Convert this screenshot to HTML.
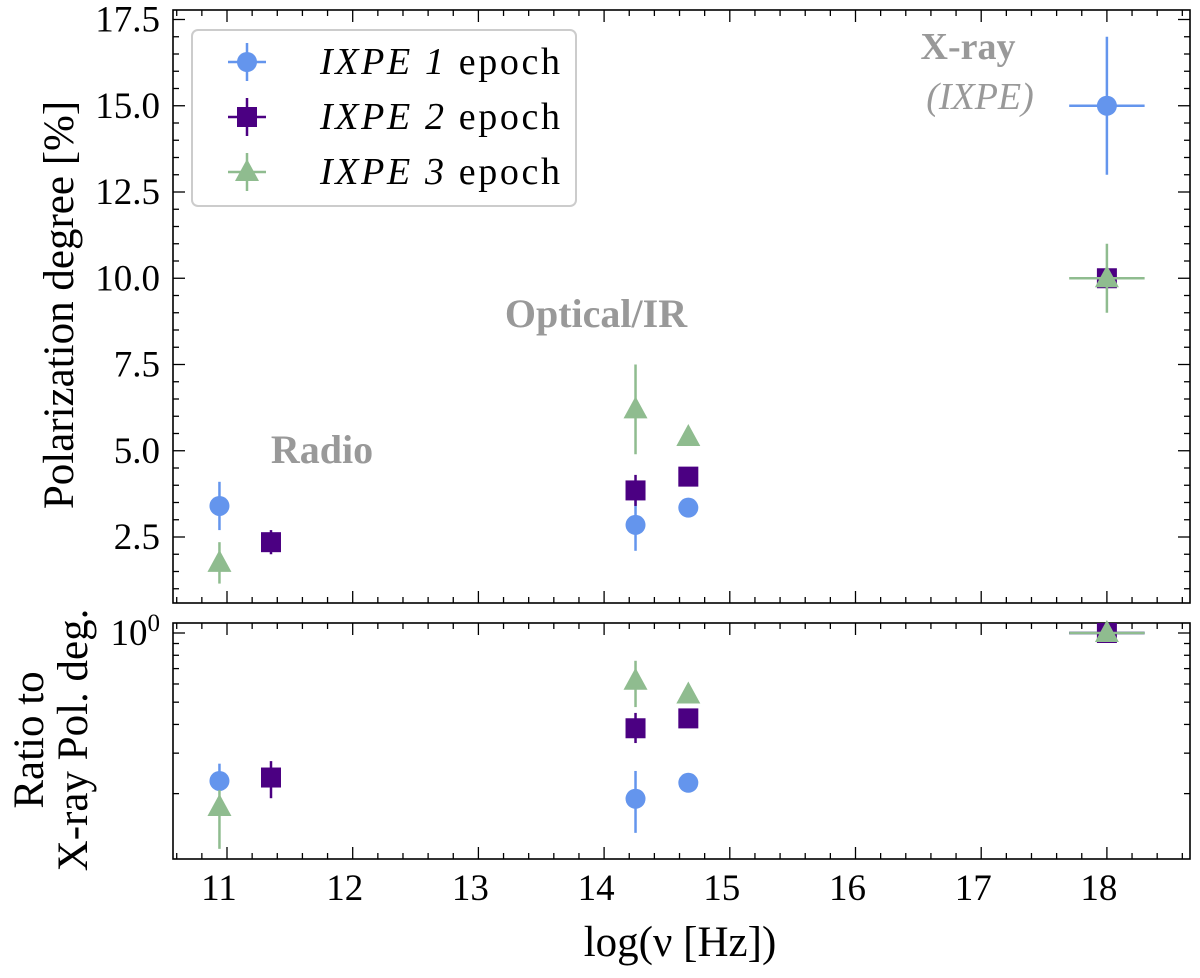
<!DOCTYPE html>
<html><head><meta charset="utf-8"><style>
body{margin:0;background:#fff}
svg text{font-family:"Liberation Serif",serif;fill:#000}
</style></head><body>
<svg id="chart" width="1200" height="973" viewBox="0 0 1200 973" xmlns="http://www.w3.org/2000/svg">
<g id="g"></g>
</svg>
<script>
// data
const ep1X = [10.94, 14.25, 14.67, 18.0];
const ep1Y = [3.4, 2.85, 3.35, 15.0];
const ep1Err = [0.7, 0.75, 0.15, 2.0];
const ep1XErr = [0, 0, 0, 0.3];
const ep2X = [11.35, 14.25, 14.67, 18.0];
const ep2Y = [2.35, 3.85, 4.25, 10.0];
const ep2Err = [0.35, 0.45, 0.1, 0.3];
const ep2XErr = [0, 0, 0, 0.05];
const ep3X = [10.94, 14.25, 14.67, 18.0];
const ep3Y = [1.75, 6.2, 5.4, 10.0];
const ep3Err = [0.6, 1.3, 0.1, 1.0];
const ep3XErr = [0, 0, 0, 0.3];
// ratio panel
const r1Y = [0.227, 0.19, 0.223, 1.0];
const r1Lo = [0.205, 0.135, 0.205, 1.0];
const r1Hi = [0.27, 0.251, 0.245, 1.0];
const r2Y = [0.235, 0.385, 0.425, 1.0];
const r2Lo = [0.191, 0.332, 0.405, 1.0];
const r2Hi = [0.277, 0.449, 0.445, 1.0];
const r3Y = [0.175, 0.62, 0.54, 1.0];
const r3Lo = [0.115, 0.476, 0.52, 1.0];
const r3Hi = [0.207, 0.757, 0.56, 1.0];
const xTicks = [11, 12, 13, 14, 15, 16, 17, 18];
const yTicks = [2.5, 5.0, 7.5, 10.0, 12.5, 15.0, 17.5];

const NS = "http://www.w3.org/2000/svg";
const g = document.getElementById('g');
function el(tag, attrs, parent) {
  const e = document.createElementNS(NS, tag);
  for (const k in attrs) e.setAttribute(k, attrs[k]);
  (parent || g).appendChild(e);
  return e;
}
const L = 173, R = 1190, T1 = 10, B1 = 603, T2 = 623, B2 = 859;
const X = v => 227 + (v - 11) * 125.7;
const Y1 = v => 537 - (v - 2.5) * 34.5;
const Y2 = v => 633 - Math.log10(v) * 229.8;
const C1 = "#6495ED", C2 = "#4B0082", C3 = "#8FBC8F";

const f1 = el('rect', {x: L, y: T1, width: R - L, height: B1 - T1, fill: 'none', stroke: '#000', 'stroke-width': 1.6});


const f2 = el('rect', {x: L, y: T2, width: R - L, height: B2 - T2, fill: 'none', stroke: '#000', 'stroke-width': 1.6});



for (let v = 10.6; v <= 18.61; v += 0.2) {
  const vv = Math.round(v * 10) / 10;
  const major = Math.abs(vv - Math.round(vv)) < 1e-6;
  const len = major ? 12 : 6;
  const x = X(vv);
  if (x < L || x > R) continue;
  [[T1, 1], [B1, -1], [T2, 1], [B2, -1]].forEach(([y, d]) => {
    el('line', {x1: x, x2: x, y1: y, y2: y + d * len, stroke: '#000', 'stroke-width': 1.3});
  });
}
xTicks.forEach(t => {
  const tx = el('text', {x: X(t) - 8, y: 900, 'font-size': 37, 'text-anchor': 'middle'});
  tx.textContent = t;
  
  
});
for (let v = 1.0; v <= 17.6; v += 0.5) {
  const major = Math.abs(v / 2.5 - Math.round(v / 2.5)) < 1e-6;
  const len = major ? 12 : 6;
  const y = Y1(v);
  if (y < T1 || y > B1) continue;
  el('line', {x1: L, x2: L + len, y1: y, y2: y, stroke: '#000', 'stroke-width': 1.3});
  el('line', {x1: R, x2: R - len, y1: y, y2: y, stroke: '#000', 'stroke-width': 1.3});
}
yTicks.forEach(t => {
  const tx = el('text', {x: 160, y: Y1(t) + 12, 'font-size': 37, 'text-anchor': 'end'});
  tx.textContent = t.toFixed(1);
  
  
});
[0.2,0.3,0.4,0.5,0.6,0.7,0.8,0.9,1.0].forEach(v => {
  const len = v === 1.0 ? 12 : 6;
  const y = Y2(v);
  el('line', {x1: L, x2: L + len, y1: y, y2: y, stroke: '#000', 'stroke-width': 1.3});
  el('line', {x1: R, x2: R - len, y1: y, y2: y, stroke: '#000', 'stroke-width': 1.3});
});
const t0 = el('text', {x: 160, y: Y2(1) + 12, 'font-size': 37, 'text-anchor': 'end'});
t0.innerHTML = '10<tspan dy="-14" font-size="25">0</tspan>';



const yl = el('text', {x: 0, y: 0, 'font-size': 43, 'text-anchor': 'middle', transform: 'translate(73,305) rotate(-90)'});
yl.textContent = 'Polarization degree [%]';


const yl2 = el('text', {x: 0, y: 0, 'font-size': 43, 'text-anchor': 'middle', transform: 'translate(43,740) rotate(-90)'});
yl2.textContent = 'Ratio to';


const yl3 = el('text', {x: 0, y: 0, 'font-size': 43, 'text-anchor': 'middle', transform: 'translate(87,740) rotate(-90)'});
yl3.textContent = 'X-ray Pol. deg.';


const xl = el('text', {x: 680, y: 956, 'font-size': 43, 'text-anchor': 'middle'});
xl.textContent = 'log(\u03BD [Hz])';



function ann(x, y, txt, name, italic, size) {
  const a = el('text', {x: x, y: y, 'font-size': size, 'text-anchor': 'middle', style: 'fill:#999;font-weight:' + (italic ? 'normal' : 'bold') + (italic ? ';font-style:italic' : '')});
  a.textContent = txt;
  
  
}
ann(322, 463, 'Radio', 'radio-annotation', false, 40);
ann(596, 327, 'Optical/IR', 'optical-annotation', false, 40);
ann(968, 59, 'X-ray', 'xray-annotation', false, 38);
ann(980, 109, '(IXPE)', 'ixpe-annotation', true, 38);

function marker(shape, x, y, color, parent) {
  if (shape === 'o') return el('circle', {cx: x, cy: y, r: 10, fill: color}, parent);
  if (shape === 's') return el('rect', {x: x - 10, y: y - 10, width: 20, height: 20, fill: color}, parent);
  return el('polygon', {points: `${x},${y-13} ${x-12},${y+9} ${x+12},${y+9}`, fill: color}, parent);
}
function series(xs, ys, lo, hi, xe, color, shape, yfun, name) {
  const sg = el('g', {});
  
  
  xs.forEach((xv, i) => {
    const px = X(xv), py = yfun(ys[i]);
    el('line', {x1: px, x2: px, y1: yfun(hi[i]), y2: yfun(lo[i]), stroke: color, 'stroke-width': 2.5}, sg);
    if (xe[i] > 0) el('line', {x1: X(xv - xe[i]), x2: X(xv + xe[i]), y1: py, y2: py, stroke: color, 'stroke-width': 2.5}, sg);
    const m = marker(shape, px, py, color, sg);
    
    
  });
}
const add = (a, b) => a.map((v, i) => v + b[i]);
const sub = (a, b) => a.map((v, i) => v - b[i]);
series(ep1X, ep1Y, sub(ep1Y, ep1Err), add(ep1Y, ep1Err), ep1XErr, C1, 'o', Y1, 'epoch1-series');
series(ep2X, ep2Y, sub(ep2Y, ep2Err), add(ep2Y, ep2Err), ep2XErr, C2, 's', Y1, 'epoch2-series');
series(ep3X, ep3Y, sub(ep3Y, ep3Err), add(ep3Y, ep3Err), ep3XErr, C3, '^', Y1, 'epoch3-series');
series(ep1X, r1Y, r1Lo, r1Hi, [0,0,0,0.3], C1, 'o', Y2, 'epoch1-ratio-series');
series(ep2X, r2Y, r2Lo, r2Hi, [0,0,0,0.3], C2, 's', Y2, 'epoch2-ratio-series');
series(ep3X, r3Y, r3Lo, r3Hi, [0,0,0,0.3], C3, '^', Y2, 'epoch3-ratio-series');

const lg = el('g', {});


el('rect', {x: 192, y: 30, width: 384, height: 176, rx: 6, fill: '#fff', 'fill-opacity': 0.85, stroke: '#ccc', 'stroke-width': 2}, lg);
[[C1, 'o', '1', 62], [C2, 's', '2', 117], [C3, '^', '3', 172]].forEach(([c, s, n, y]) => {
  const eg = el('g', {}, lg);
  
  
  el('line', {x1: 228, x2: 266, y1: y, y2: y, stroke: c, 'stroke-width': 2.5}, eg);
  el('line', {x1: 247, x2: 247, y1: y - 19, y2: y + 19, stroke: c, 'stroke-width': 2.5}, eg);
  marker(s, 247, y, c, eg);
  const t = el('text', {x: 320, y: y + 12, 'font-size': 38, textLength: 240}, eg);
  t.innerHTML = '<tspan font-style="italic">IXPE ' + n + '</tspan> epoch';
});
</script>
</body></html>
